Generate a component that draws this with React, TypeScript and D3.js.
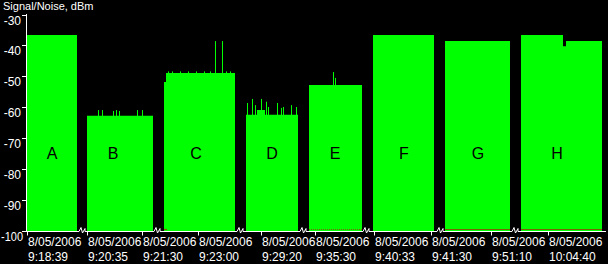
import React from "react";
import * as d3 from "d3";

// ---- data ----
const segNames = ["A", "B", "C", "D", "E", "F", "G", "H"];
const segStart = ["9:18:38", "9:20:30", "9:22:19", "9:28:59", "9:35:18", "9:40:25", "9:50:19", "10:04:07"];
const segEnd = ["9:19:34", "9:21:45", "9:23:42", "9:30:02", "9:36:21", "9:41:39", "9:51:34", "10:05:38"];
const labelTimes = ["9:19:04", "9:21:01", "9:22:58", "9:29:31", "9:35:50", "9:41:03", "9:50:57", "10:04:49"];

const signalA: [string, number][] = [["9:18:39", -36.6], ["9:19:29", -36.6]];
const signalB: [string, number][] = [["9:20:35", -62.7], ["9:21:41", -62.7]];
const signalC: [string, number][] = [["9:22:26", -51.8], ["9:22:28", -48.9], ["9:23:37", -48.9]];
const signalD: [string, number][] = [["9:29:05", -62.4], ["9:29:16", -60.9], ["9:29:24", -62.4], ["9:29:57", -62.4]];
const signalE: [string, number][] = [["9:35:24", -52.8], ["9:36:17", -52.8]];
const signalF: [string, number][] = [["9:40:32", -36.6], ["9:41:33", -36.6]];
const signalG: [string, number][] = [["9:50:24", -38.6], ["9:51:29", -38.6]];
const signalH: [string, number][] = [["10:04:13", -36.6], ["10:04:55", -40.3], ["10:04:58", -38.6], ["10:05:34", -38.6]];
const signals = [signalA, signalB, signalC, signalD, signalE, signalF, signalG, signalH];

const spikesA: [string, number][] = [];
const spikesB: [string, number][] = [["9:20:46", -60.9], ["9:20:50", -60.9], ["9:21:01", -61.2], ["9:21:04", -60.9], ["9:21:07", -61.2], ["9:21:25", -60.9], ["9:21:30", -60.9]];
const spikesC: [string, number][] = [["9:22:30", -48.4], ["9:22:34", -48.4], ["9:22:42", -48.4], ["9:22:50", -48.4], ["9:22:58", -48.4], ["9:23:06", -48.4], ["9:23:12", -48.4], ["9:23:17", -38.6], ["9:23:24", -38.6], ["9:23:28", -48.4], ["9:23:32", -48.4]];
const spikesD: [string, number][] = [["9:29:06", -58.6], ["9:29:11", -57.3], ["9:29:14", -59.3], ["9:29:20", -57.3], ["9:29:25", -58.2], ["9:29:27", -59.9], ["9:29:36", -58.6], ["9:29:40", -60.2], ["9:29:42", -59.9], ["9:29:50", -59.3], ["9:29:55", -59.9]];
const spikesE: [string, number][] = [["9:35:48", -48.6], ["9:35:50", -50.5]];
const spikesF: [string, number][] = [];
const spikesG: [string, number][] = [];
const spikesH: [string, number][] = [];
const spikes = [spikesA, spikesB, spikesC, spikesD, spikesE, spikesF, spikesG, spikesH];

const noiseLevel = -99.6;
const noiseSolid: [string, string][] = [["9:22:26", "9:22:29"], ["9:50:24", "9:51:29"], ["10:04:13", "10:05:34"]];
const noiseDotted: [string, string][] = [["9:35:24", "9:36:17"]];

const xTicks = [
  ["9:18:39"], ["9:20:35", "9:21:30"], ["9:23:00"], ["9:29:20"], ["9:35:30"],
  ["9:40:33", "9:41:30"], ["9:51:10"], ["10:04:40"],
];
const dateLabel = "8/05/2006";
const yTicks = [-30, -40, -50, -60, -70, -80, -90, -100];
const title = "Signal/Noise, dBm";

// ---- helpers ----
const sec = (s: string) => {
  const [h, m, ss] = s.split(":").map(Number);
  return h * 3600 + m * 60 + ss;
};

const W = 608, H = 264;
const left = 26, right = 606, top = 14.5, bottom = 231;
const GREEN = "#00ff00";
const FONT = "'Liberation Sans', Arial, sans-serif";

export default function App() {
  const y = d3.scaleLinear().domain([-100, -30]).range([bottom, top]);
  const durations = segStart.map((s, i) => sec(segEnd[i]) - sec(s));
  const total = d3.sum(durations);
  const pxPerSec = (right - left) / total;
  let acc = left;
  const xs = segStart.map((s, i) => {
    const x0 = acc;
    const x1 = acc + durations[i] * pxPerSec;
    acc = x1;
    return d3.scaleLinear().domain([sec(s), sec(segEnd[i])]).range([x0, x1]);
  });
  const segIndex = (t: number) => xs.findIndex((sc) => t >= sc.domain()[0] && t <= sc.domain()[1]);
  const xOf = (s: string) => {
    const t = sec(s);
    return xs[segIndex(t)](t);
  };

  const breaks = xs.slice(1).map((sc) => sc.range()[0]);
  const ay = bottom + 0.5;

  return (
    <svg width={W} height={H} style={{ position: "absolute", left: 0, top: 0, display: "block" }} fontFamily={FONT}>
      <rect x={0} y={0} width={W} height={H} fill="#000" />
      {signals.map((pts, i) => {
        const area = d3
          .area<[string, number]>()
          .x((d) => xs[i](sec(d[0])))
          .y0(y(-100))
          .y1((d) => y(d[1]))
          .curve(d3.curveStepAfter);
        return <path key={"s" + i} d={area(pts) || ""} fill={GREEN} />;
      })}
      {spikes.map((arr, i) =>
        arr.map((d, j) => (
          <rect key={`sp${i}-${j}`} x={Math.round(xs[i](sec(d[0])))} y={y(d[1])} width={1} height={y(-100) - y(d[1])} fill={GREEN} />
        ))
      )}
      {noiseSolid.map((r, i) => (
        <line key={"ns" + i} x1={xOf(r[0])} x2={xOf(r[1])} y1={Math.round(y(noiseLevel)) - 0.5} y2={Math.round(y(noiseLevel)) - 0.5} stroke="#7a6200" strokeWidth={1.2} />
      ))}
      {noiseDotted.map((r, i) => (
        <line key={"nd" + i} x1={xOf(r[0])} x2={xOf(r[1])} y1={Math.round(y(noiseLevel)) - 0.5} y2={Math.round(y(noiseLevel)) - 0.5} stroke="#7a6200" strokeWidth={1.2} strokeDasharray="1 1" />
      ))}
      {segNames.map((n, i) => (
        <text key={"l" + n} x={xOf(labelTimes[i])} y={159} fontSize={16} textAnchor="middle" fill="#000">
          {n}
        </text>
      ))}
      {/* y axis */}
      <line x1={left + 0.5} x2={left + 0.5} y1={top - 0.5} y2={bottom + 1} stroke="#fff" />
      {yTicks.map((v) => {
        const label = String(v);
        const long = label.length > 3;
        return (
          <g key={"yt" + v}>
            <line x1={left - 4} x2={left + 0.5} y1={Math.round(y(v)) + 0.5} y2={Math.round(y(v)) + 0.5} stroke="#fff" />
            <text
              x={long ? 23 : 21}
              y={Math.round(y(v)) + 10}
              fontSize={12}
              textAnchor="end"
              fill="#fff"
              {...(long ? { textLength: 22, lengthAdjust: "spacingAndGlyphs" } : {})}
            >
              {label}
            </text>
          </g>
        );
      })}
      {/* x axis with breaks */}
      {xs.map((sc, i) => {
        const [r0, r1] = sc.range();
        const a = i === 0 ? left : r0 + 3;
        const b = i === xs.length - 1 ? right : r1 - 3;
        return <line key={"xa" + i} x1={a} x2={b} y1={ay} y2={ay} stroke="#fff" />;
      })}
      {breaks.map((bx, i) => (
        <polyline
          key={"br" + i}
          points={`${bx - 3},${ay} ${bx - 1},${ay - 4} ${bx + 0.5},${ay + 1.5} ${bx + 3},${ay - 3} ${bx + 3},${ay}`}
          fill="none"
          stroke="#fff"
        />
      ))}
      {xTicks.map((arr, i) =>
        arr.map((t) => {
          const x = Math.round(xs[i](sec(t))) + 0.5;
          return (
            <g key={"xt" + t}>
              <line x1={x} x2={x} y1={ay} y2={ay + 4} stroke="#fff" />
              <text x={x + 0.5} y={246} fontSize={12} fill="#fff">
                {dateLabel}
              </text>
              <text x={x + 0.5} y={261} fontSize={12} fill="#fff">
                {t}
              </text>
            </g>
          );
        })
      )}
      <text x={3} y={10} fontSize={11} fill="#fff">
        {title}
      </text>
    </svg>
  );
}
